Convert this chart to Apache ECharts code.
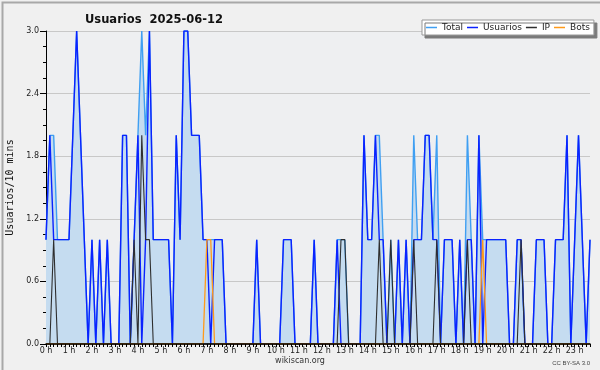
<!DOCTYPE html>
<html>
<head>
<meta charset="utf-8">
<script src="https://cdn.jsdelivr.net/npm/echarts@6/dist/echarts.min.js"></script>
<style>
  html, body { margin: 0; padding: 0; background: #f0f0f0; }
  #chart { width: 600px; height: 370px; }
</style>
</head>
<body>
<div id="chart"></div>
<script>
// 10-minute slots, 00:00 .. 23:40
var hourLabels = ['0 h', '1 h', '2 h', '3 h', '4 h', '5 h', '6 h', '7 h', '8 h', '9 h', '10 h', '11 h',
  '12 h', '13 h', '14 h', '15 h', '16 h', '17 h', '18 h', '19 h', '20 h', '21 h', '22 h', '23 h'];

var total = [
  1, 2, 2, 1, 1, 1, 1, 2, 3, 2,
  1, 0, 1, 0, 1, 0, 1, 0, 0, 0,
  2, 2, 0, 1, 2, 3, 2, 3, 1, 1,
  1, 1, 1, 0, 2, 1, 3, 3, 2, 2,
  2, 1, 1, 1, 1, 1, 1, 0, 0, 0,
  0, 0, 0, 0, 0, 1, 0, 0, 0, 0,
  0, 0, 1, 1, 1, 0, 0, 0, 0, 0,
  1, 0, 0, 0, 0, 0, 1, 1, 1, 0,
  0, 0, 0, 2, 1, 1, 2, 2, 1, 0,
  1, 0, 1, 0, 1, 0, 2, 1, 1, 2,
  2, 1, 2, 0, 1, 1, 1, 0, 1, 0,
  2, 1, 0, 2, 1, 1, 1, 1, 1, 1,
  1, 0, 0, 1, 1, 0, 0, 0, 1, 1,
  1, 0, 0, 1, 1, 1, 2, 0, 1, 2,
  1, 0, 1
];
var usuarios = [
  1, 2, 1, 1, 1, 1, 1, 2, 3, 2,
  1, 0, 1, 0, 1, 0, 1, 0, 0, 0,
  2, 2, 0, 1, 2, 0, 1, 3, 1, 1,
  1, 1, 1, 0, 2, 1, 3, 3, 2, 2,
  2, 1, 1, 0, 1, 1, 1, 0, 0, 0,
  0, 0, 0, 0, 0, 1, 0, 0, 0, 0,
  0, 0, 1, 1, 1, 0, 0, 0, 0, 0,
  1, 0, 0, 0, 0, 0, 1, 0, 0, 0,
  0, 0, 0, 2, 1, 1, 2, 1, 1, 0,
  0, 0, 1, 0, 1, 0, 1, 1, 1, 2,
  2, 1, 1, 0, 1, 1, 1, 0, 1, 0,
  1, 1, 0, 2, 0, 1, 1, 1, 1, 1,
  1, 0, 0, 1, 1, 0, 0, 0, 1, 1,
  1, 0, 0, 1, 1, 1, 2, 0, 1, 2,
  1, 0, 1
];
var ip = [
  0, 0, 1, 0, 0, 0, 0, 0, 0, 0,
  0, 0, 0, 0, 0, 0, 0, 0, 0, 0,
  0, 0, 0, 1, 0, 2, 1, 1, 0, 0,
  0, 0, 0, 0, 0, 0, 0, 0, 0, 0,
  0, 0, 0, 0, 0, 0, 0, 0, 0, 0,
  0, 0, 0, 0, 0, 0, 0, 0, 0, 0,
  0, 0, 0, 0, 0, 0, 0, 0, 0, 0,
  0, 0, 0, 0, 0, 0, 0, 1, 1, 0,
  0, 0, 0, 0, 0, 0, 0, 1, 0, 0,
  1, 0, 0, 0, 0, 0, 1, 0, 0, 0,
  0, 0, 1, 0, 0, 0, 0, 0, 0, 0,
  1, 0, 0, 0, 0, 0, 0, 0, 0, 0,
  0, 0, 0, 0, 1, 0, 0, 0, 0, 0,
  0, 0, 0, 0, 0, 0, 0, 0, 0, 0,
  0, 0, 0
];
var bots = [
  0, 0, 0, 0, 0, 0, 0, 0, 0, 0,
  0, 0, 0, 0, 0, 0, 0, 0, 0, 0,
  0, 0, 0, 0, 0, 0, 0, 0, 0, 0,
  0, 0, 0, 0, 0, 0, 0, 0, 0, 0,
  0, 0, 1, 1, 0, 0, 0, 0, 0, 0,
  0, 0, 0, 0, 0, 0, 0, 0, 0, 0,
  0, 0, 0, 0, 0, 0, 0, 0, 0, 0,
  0, 0, 0, 0, 0, 0, 0, 0, 0, 0,
  0, 0, 0, 0, 0, 0, 0, 0, 0, 0,
  0, 0, 0, 0, 0, 0, 0, 0, 0, 0,
  0, 0, 0, 0, 0, 0, 0, 0, 0, 0,
  0, 0, 0, 0, 1, 0, 0, 0, 0, 0,
  0, 0, 0, 0, 0, 0, 0, 0, 0, 0,
  0, 0, 0, 0, 0, 0, 0, 0, 0, 0,
  0, 0, 0
];

var slots = [];
for (var i = 0; i < total.length; i++) {
  var h = Math.floor(i / 6), m = (i % 6) * 10;
  slots.push(h + ':' + (m < 10 ? '0' + m : m));
}

var FONT = 'DejaVu Sans';
var chart = echarts.init(document.getElementById('chart'));
chart.setOption({
  animation: false,
  backgroundColor: '#f0f0f0',
  title: {
    text: 'Usuarios  2025-06-12', left: 80, top: 9,
    textStyle: { fontFamily: FONT, fontSize: 11.5, fontWeight: 'bold', color: '#111' }
  },
  legend: {
    data: ['Total', 'Usuarios', 'IP', 'Bots'],
    left: 422, top: 20, padding: [3, 4, 3, 4], itemGap: 4,
    icon: 'rect', itemWidth: 11, itemHeight: 1.5,
    backgroundColor: '#fff', borderColor: '#999', borderWidth: 1,
    shadowColor: '#7a7a7a', shadowOffsetX: 3, shadowOffsetY: 3, shadowBlur: 0,
    textStyle: { fontFamily: FONT, fontSize: 9, color: '#222' }
  },
  grid: {
    left: 46, right: 10, top: 31, bottom: 26, outerBoundsMode: 'none',
    show: true, backgroundColor: '#eeeff1', borderWidth: 0
  },
  xAxis: {
    type: 'category', data: slots, boundaryGap: false, z: 5,
    axisLine: { lineStyle: { color: '#000', width: 1.5 } },
    axisTick: { interval: 0, length: 3, lineStyle: { color: '#000' } },
    axisLabel: {
      interval: 5, margin: 3, fontFamily: FONT, fontSize: 8, color: '#222',
      formatter: function (v, idx) { return hourLabels[idx / 6]; }
    },
    splitLine: { show: false }
  },
  yAxis: {
    type: 'value', min: 0, max: 3, interval: 0.6,
    name: 'Usuarios/10 mins', nameLocation: 'middle', nameGap: 31,
    nameTextStyle: { fontFamily: 'DejaVu Sans Mono', fontSize: 10, color: '#111' },
    axisLine: { show: true, lineStyle: { color: '#000', width: 1 } },
    axisTick: { show: true, length: 6, lineStyle: { color: '#000' } },
    minorTick: { show: true, splitNumber: 4, length: 3, lineStyle: { color: '#000' } },
    axisLabel: {
      margin: 7, fontFamily: FONT, fontSize: 8, color: '#222',
      formatter: function (v) { return v.toFixed(1); }
    },
    splitLine: { lineStyle: { color: '#c8c8c8', width: 1 } }
  },
  series: [
    {
      name: 'Total', type: 'line', data: total, showSymbol: false,
      lineStyle: { color: '#3f9ff2', width: 1.4 }, itemStyle: { color: '#3f9ff2' },
      areaStyle: { color: '#c5dcf0', opacity: 1 }
    },
    {
      name: 'Usuarios', type: 'line', data: usuarios, showSymbol: false,
      lineStyle: { color: '#0a22ff', width: 1.4 }, itemStyle: { color: '#0a22ff' }
    },
    {
      name: 'IP', type: 'line', data: ip, showSymbol: false,
      lineStyle: { color: '#2e2e2e', width: 1.1 }, itemStyle: { color: '#2e2e2e' }
    },
    {
      name: 'Bots', type: 'line', data: bots, showSymbol: false,
      lineStyle: { color: '#ff9a1a', width: 1.3 }, itemStyle: { color: '#ff9a1a' }
    }
  ],
  graphic: [
    {
      type: 'text', left: 'center', top: 357,
      style: { text: 'wikiscan.org', fontFamily: FONT, fontSize: 8, fill: '#333' }
    },
    {
      type: 'text', right: 10, top: 360,
      style: { text: 'CC BY-SA 3.0', fontFamily: 'Liberation Sans', fontSize: 6, fill: '#444' }
    },
    {
      type: 'rect', left: 0, top: 0, silent: true,
      shape: { x: 0, y: 0, width: 599, height: 369 },
      style: { fill: 'none', stroke: '#a8a8a8', lineWidth: 2 }
    }
  ]
});
</script>
</body>
</html>
